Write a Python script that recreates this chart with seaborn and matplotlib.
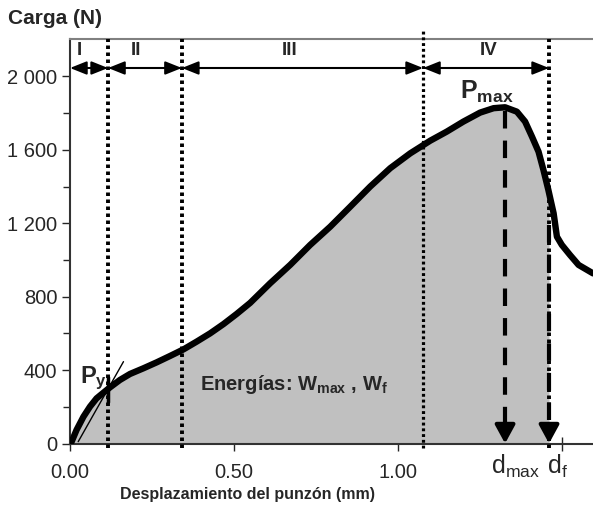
import numpy as np
import pandas as pd
import matplotlib
matplotlib.use("Agg")
import matplotlib.pyplot as plt
import seaborn as sns

# ---- data ----
disp = [0, 0.005, 0.020, 0.041, 0.061, 0.081, 0.102, 0.122, 0.152, 0.183, 0.224,
        0.264, 0.305, 0.346, 0.386, 0.427, 0.468, 0.508, 0.549, 0.610, 0.671,
        0.732, 0.793, 0.854, 0.915, 0.976, 1.037, 1.098, 1.148, 1.199, 1.25,
        1.291, 1.326, 1.362, 1.387, 1.408, 1.428, 1.443, 1.458, 1.474, 1.484,
        1.499, 1.524, 1.55, 1.594]
load = [0, 10, 74, 146, 201, 246, 277, 306, 346, 379, 410,
        442, 477, 513, 555, 600, 651, 706, 766, 873, 973,
        1082, 1181, 1290, 1400, 1500, 1581, 1650, 1699, 1754, 1803,
        1827, 1832, 1808, 1754, 1672, 1590, 1490, 1381, 1254, 1127,
        1082, 1027, 973, 927]

zone_bounds = [0.0, 0.116, 0.341, 1.076, 1.46]
zone_labels = ["I", "II", "III", "IV"]
zone_label_x = [0.028, 0.2, 0.67, 1.277]
d_max = 1.326
d_f = 1.46
p_y_x = 0.116
d_f_load = 1190
tangent_x = [0.025, 0.163]
tangent_y = [10, 446]
yticks = [0, 400, 800, 1200, 1600, 2000]
ytick_labels = ["0", "400", "800", "1 200", "1 600", "2 000"]
xticks = [0.0, 0.5, 1.0, 1.5]
xtick_labels = ["0.00", "0.50", "1.00", ""]

df = pd.DataFrame({"disp": disp, "load": load})

sns.set_style("ticks")
plt.rcParams["font.family"] = ["Liberation Sans", "DejaVu Sans"]
plt.rcParams["mathtext.fontset"] = "custom"
plt.rcParams["mathtext.rm"] = "Liberation Sans"
plt.rcParams["mathtext.it"] = "Liberation Sans"
plt.rcParams["mathtext.bf"] = "Liberation Sans:bold"

fig = plt.figure(figsize=(5.93, 5.07), dpi=100)
ax = fig.add_axes([70 / 593, 1 - 443.5 / 507, 1 - 70 / 593, (443.5 - 39) / 507])

# shaded energy area up to d_f
xs = np.array(disp)
ys = np.array(load)
mask = xs <= d_f
xf = np.append(xs[mask], d_f)
yf = np.append(ys[mask], np.interp(d_f, xs, ys))
ax.fill_between(xf, 0, yf, color="#c0c0c0", lw=0, zorder=1)

sns.lineplot(data=df, x="disp", y="load", ax=ax, color="black", lw=4.6,
             zorder=5, solid_joinstyle="round", solid_capstyle="round")

# tangent line and P_y marker
ax.plot(tangent_x, tangent_y, color="black", lw=1, zorder=6)
ax.plot([p_y_x, p_y_x], [226, 362], color="black", lw=2.5, zorder=6)

# dotted zone boundaries
tops = [2204, 2204, 2245, 2204]
widths = [2.8, 2.8, 2.3, 2.8]
for xb, tp, w in zip(zone_bounds[1:], tops, widths):
    ax.plot([xb, xb], [-25, tp], color="black", lw=w, dashes=(0.9, 0.9),
            clip_on=False, zorder=4)

# double arrows and zone labels
for i in range(4):
    ax.annotate("", xy=(zone_bounds[i], 2046), xytext=(zone_bounds[i + 1], 2046),
                arrowprops=dict(arrowstyle="<|-|>,head_length=0.5,head_width=0.2",
                                mutation_scale=20, color="black", lw=1.5,
                                shrinkA=0, shrinkB=0), annotation_clip=False, zorder=7)
    ax.text(zone_label_x[i], 2144, zone_labels[i], ha="center", va="center",
            fontsize=13.5, fontweight="bold")

# dashed lines with arrowheads
for xd, top in [(d_max, 1810), (d_f, d_f_load)]:
    ax.plot([xd, xd], [top, 60], color="black", lw=3, dashes=(4.2, 2.9), zorder=6)
    ax.annotate("", xy=(xd, 0), xytext=(xd, 90),
                arrowprops=dict(arrowstyle="-|>,head_length=0.55,head_width=0.3",
                                mutation_scale=20, color="black", lw=3,
                                shrinkA=0, shrinkB=0), zorder=7)

# texts
ax.text(0.03, 355, r"P$_{\mathbf{y}}$", fontsize=17, fontweight="bold",
        ha="left", va="center", zorder=8)
ax.text(1.19, 1915, r"P$_{\mathbf{max}}$", fontsize=18, fontweight="bold",
        ha="left", va="center", zorder=8)
ax.text(0.395, 322, r"Energías: W$_{\mathbf{max}}$ , W$_{\mathbf{f}}$", fontsize=14.5,
        fontweight="bold", ha="left", va="center", zorder=8)
ax.text(1.283, -125, r"d$_{\mathrm{max}}$", fontsize=18, ha="left", va="center")
ax.text(1.455, -125, r"d$_{\mathrm{f}}$", fontsize=18, ha="left", va="center")

fig.text(8 / 593, 1 - 18 / 507, "Carga (N)", fontsize=15, fontweight="bold",
         ha="left", va="center")

ax.set_xlim(0, 1.594)
ax.set_ylim(0, 2204)
ax.set_yticks(yticks)
ax.set_yticklabels(ytick_labels, fontsize=14.5)
ax.set_yticks(np.arange(200, 2200, 400), minor=True)
ax.set_xticks(xticks)
ax.set_xticklabels(xtick_labels, fontsize=14.5)
ax.set_xticks(np.arange(0.1, 1.6, 0.1), minor=True)
ax.tick_params(axis="y", which="major", direction="out", length=6, width=1, pad=3)
ax.tick_params(axis="y", which="minor", direction="out", length=5, width=1)
ax.tick_params(axis="x", which="major", direction="inout", length=10, width=1, pad=9)
ax.tick_params(axis="x", which="minor", direction="in", length=4, width=1)
ax.set_xlabel("Desplazamiento del punzón (mm)", fontsize=11.5, fontweight="bold")
ax.xaxis.set_label_coords((247 - 70) / 523, -(502 - 443.5) / 404.5)
ax.xaxis.label.set_va("bottom")
ax.set_ylabel("")

for s in ["left", "bottom"]:
    ax.spines[s].set_color("#333333")
    ax.spines[s].set_linewidth(1.5)
ax.spines["top"].set_visible(True)
ax.spines["top"].set_color("#808080")
ax.spines["top"].set_linewidth(1.5)
ax.spines["right"].set_visible(False)

fig.savefig("out.png", dpi=100)
